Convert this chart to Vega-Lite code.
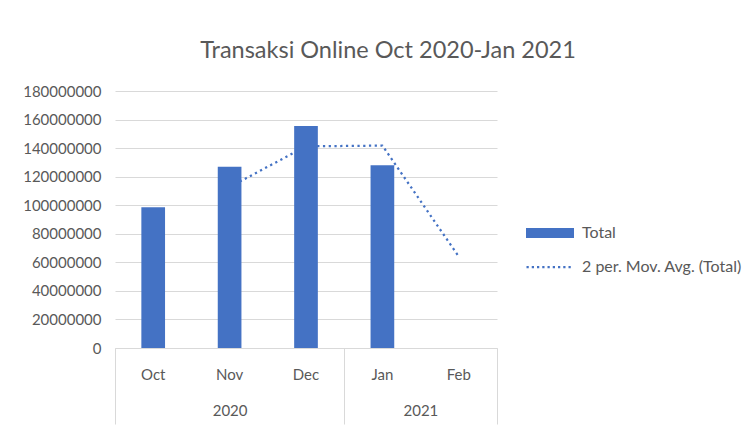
{
  "$schema": "https://vega.github.io/schema/vega-lite/v6.json",
  "autosize": {"type": "none"},
  "width": 382,
  "height": 257,
  "padding": {"left": 115, "top": 91, "right": 254, "bottom": 77},
  "background": "white",
  "config": {"view": {"stroke": null}, "font": "Lato"},
  "title": {
    "text": "Transaksi Online Oct 2020-Jan 2021",
    "font": "Lato",
    "fontSize": 23.5,
    "fontWeight": "normal",
    "color": "#595959",
    "anchor": "middle",
    "frame": "group",
    "dx": 82,
    "offset": 22
  },
  "data": {
    "values": [
      {"month": "Oct", "year": "2020", "Total": 98500000, "MA": null},
      {"month": "Nov", "year": "2020", "Total": 127000000, "MA": 112750000},
      {"month": "Dec", "year": "2020", "Total": 155500000, "MA": 141250000},
      {"month": "Jan", "year": "2021", "Total": 128000000, "MA": 141750000},
      {"month": "Feb", "year": "2021", "Total": null, "MA": 64000000}
    ]
  },
  "resolve": {"axis": {"x": "independent"}},
  "layer": [
    {
      "mark": {"type": "line", "strokeWidth": 2.25, "strokeDash": [2.25, 3.5], "strokeCap": "butt"},
      "encoding": {
        "x": {
          "field": "month",
          "type": "nominal",
          "sort": ["Oct", "Nov", "Dec", "Jan", "Feb"],
          "scale": {"type": "band", "domain": ["Oct", "Nov", "Dec", "Jan", "Feb"], "paddingInner": 0, "paddingOuter": 0},
          "axis": {
            "orient": "bottom",
            "title": null,
            "grid": false,
            "domain": true,
            "domainColor": "#d9d9d9",
            "domainWidth": 1,
            "ticks": true,
            "tickBand": "extent",
            "tickSize": 76,
            "tickColor": "#d9d9d9",
            "tickWidth": 1,
            "tickOpacity": {"condition": {"test": "datum.value === 'Oct' || datum.value === 'Nov' || datum.value === 'Jan'", "value": 0}, "value": 1},
            "labelExpr": "datum.value === 'Nov' ? '2020' : (datum.value === 'Jan' ? '2021' : '')",
            "labelOffset": {"condition": {"test": "datum.value === 'Jan'", "value": 38}, "value": 0},
            "labelPadding": -21,
            "labelAngle": 0,
            "labelFont": "Lato",
            "labelFontSize": 15,
            "labelColor": "#595959"
          }
        },
        "y": {
          "field": "MA",
          "type": "quantitative",
          "scale": {"domain": [0, 180000000], "nice": false, "zero": true},
          "axis": {
            "title": null,
            "domain": false,
            "ticks": false,
            "grid": true,
            "gridColor": "#d9d9d9",
            "gridWidth": 1,
            "values": [0, 20000000, 40000000, 60000000, 80000000, 100000000, 120000000, 140000000, 160000000, 180000000],
            "format": "d",
            "labelPadding": 14,
            "labelFont": "Lato",
            "labelFontSize": 15,
            "labelColor": "#595959"
          }
        },
        "color": {"datum": "2 per. Mov. Avg. (Total)", "type": "nominal"}
      }
    },
    {
      "mark": {"type": "bar", "width": {"band": 0.31}},
      "encoding": {
        "x": {
          "field": "month",
          "type": "nominal",
          "sort": ["Oct", "Nov", "Dec", "Jan", "Feb"],
          "scale": {"type": "band", "domain": ["Oct", "Nov", "Dec", "Jan", "Feb"], "paddingInner": 0, "paddingOuter": 0},
          "axis": {
            "orient": "bottom",
            "title": null,
            "grid": false,
            "domain": false,
            "ticks": false,
            "labelPadding": 19,
            "labelAngle": 0,
            "labelFont": "Lato",
            "labelFontSize": 15,
            "labelColor": "#595959"
          }
        },
        "y": {
          "field": "Total",
          "type": "quantitative",
          "scale": {"domain": [0, 180000000], "nice": false, "zero": true},
          "axis": {
            "title": null,
            "domain": false,
            "ticks": false,
            "grid": true,
            "gridColor": "#d9d9d9",
            "gridWidth": 1,
            "values": [0, 20000000, 40000000, 60000000, 80000000, 100000000, 120000000, 140000000, 160000000, 180000000],
            "format": "d",
            "labelPadding": 14,
            "labelFont": "Lato",
            "labelFontSize": 15,
            "labelColor": "#595959"
          }
        },
        "color": {
          "datum": "Total",
          "type": "nominal",
          "scale": {"domain": ["Total", "2 per. Mov. Avg. (Total)"], "range": ["#4472c4", "#4472c4"]},
          "legend": {
            "title": null,
            "orient": "none",
            "legendX": 427,
            "legendY": 134,
            "padding": 0,
            "symbolSize": 400,
            "rowPadding": 18,
            "labelOffset": 24,
            "labelFont": "Lato",
            "labelFontSize": 16,
            "labelColor": "#595959",
            "encode": {
              "symbols": {
                "update": {
                  "shape": {"signal": "datum.value === 'Total' ? 'M-2.4,-0.5H2.4V0.5H-2.4Z' : 'M-2.35,0H2.35'"},
                  "fill": {"signal": "datum.value === 'Total' ? '#4472c4' : 'transparent'"},
                  "stroke": {"value": "#4472c4"},
                  "strokeWidth": {"signal": "datum.value === 'Total' ? 0 : 2.25"},
                  "strokeDash": {"signal": "datum.value === 'Total' ? [] : [2.25, 3]"},
                  "opacity": {"value": 1}
                }
              }
            }
          }
        }
      }
    }
  ]
}
